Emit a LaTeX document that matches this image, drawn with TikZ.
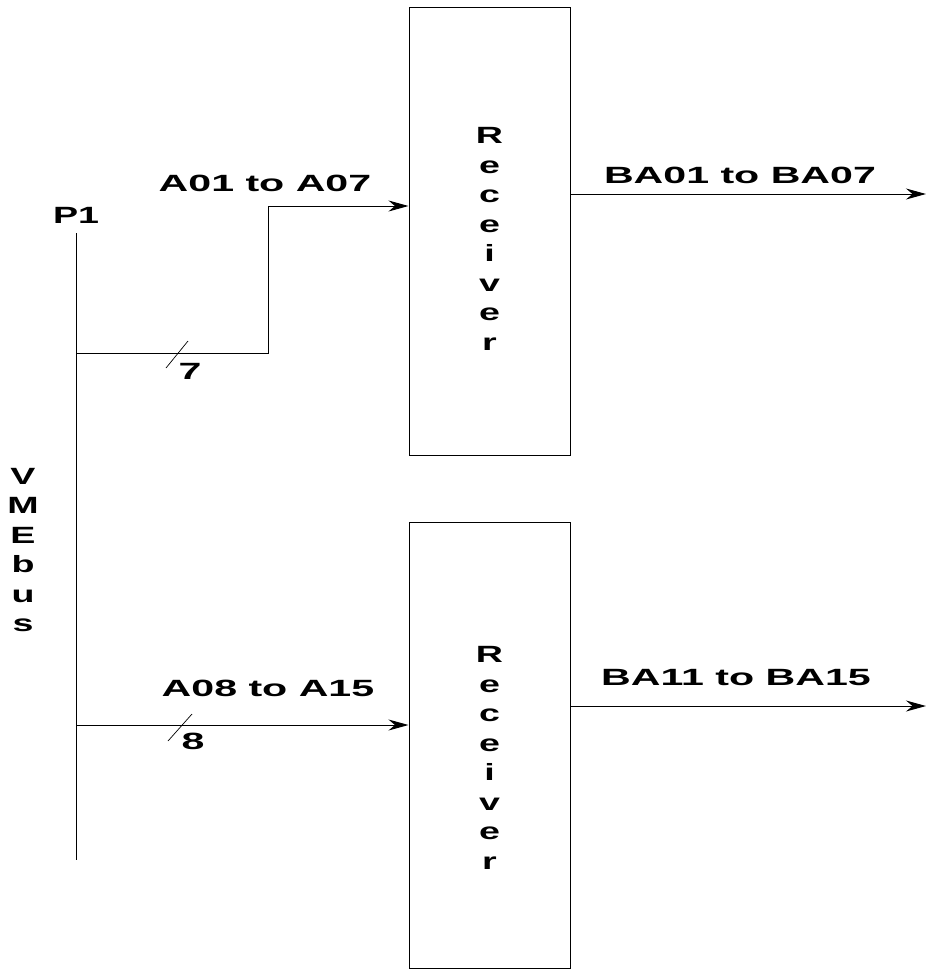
\documentclass[tikz,border=0pt]{standalone}
\usepackage{fontspec}
\setmainfont{Liberation Sans}
\usetikzlibrary{positioning,arrows.meta}

\begin{document}
\begin{tikzpicture}[x=1pt, y=-1pt,
  every node/.style={font=\bfseries\fontsize{23.5}{29.5}\selectfont, inner sep=0pt},
  rx/.style={draw, line width=1pt, minimum width=161pt, minimum height=448pt},
  wire/.style={line width=1pt},
  tick/.style={line width=0.7pt},
  sig/.style={-{Stealth[length=20pt, width=11pt]}, line width=1pt},
  lab/.style={xscale=1.75},
  stack/.style={xscale=1.6, align=center}]

\useasboundingbox (0,0) rectangle (926,970);

\node[rx] (recv1) at (489.5,231) {};
\node[rx, minimum height=446pt] (recv2) at (489.5,745) {};
\node[stack] (name1) at (489.5,239) {R\\e\\c\\e\\i\\v\\e\\r};
\node[stack] (name2) at (489.5,758) {R\\e\\c\\e\\i\\v\\e\\r};

\coordinate (bustop) at (76,233);
\coordinate (busbot) at (76,860);
\node[xscale=1.6] (p1) at (76,215) {P1};
\node[stack] (vme) at (23,550) {V\\M\\E\\b\\u\\s};
\draw[wire] (bustop) -- (busbot);

\coordinate (tap1) at (76,353);
\coordinate (bend1) at (268,206);
\draw[sig] (tap1) -| (bend1) -- (bend1 -| recv1.west);
\coordinate (tick1) at (177,354);
\draw[tick] ([shift={(-11,14)}]tick1) -- ([shift={(11,-13)}]tick1);
\node[lab] (w1) at (190,371) {7};
\node[lab] (in1) at (265,183) {A01 to A07};

\coordinate (tap2) at (76,725);
\draw[sig] (tap2) -- (tap2 -| recv2.west);
\coordinate (tick2) at (180,727);
\draw[tick] ([shift={(-12,14)}]tick2) -- ([shift={(12,-13)}]tick2);
\node[lab] (w2) at (193,741) {8};
\node[lab] (in2) at (268,688) {A08 to A15};

\coordinate (out1) at (926,194);
\draw[sig] (out1 -| recv1.east) -- (out1);
\node[lab] (bo1) at (740,175) {BA01 to BA07};
\coordinate (out2) at (926,706);
\draw[sig] (out2 -| recv2.east) -- (out2);
\node[lab] (bo2) at (736,678) {BA11 to BA15};
\end{tikzpicture}
\end{document}
